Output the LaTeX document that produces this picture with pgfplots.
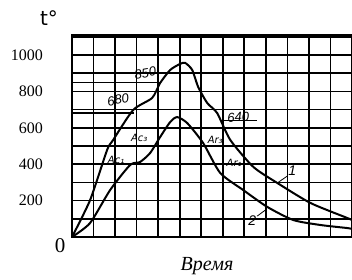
\documentclass[border=0pt]{standalone}
\usepackage{fontspec}
\setmainfont{Liberation Serif}
\newfontfamily\sansf{Liberation Sans}
\newfontfamily\djv{DejaVu Sans}
\usepackage{pgfplots}
\pgfplotsset{compat=1.18}
\begin{document}
\begin{tikzpicture}
\begin{axis}[
  at={(72pt,43pt)}, anchor=south west,
  scale only axis, width=280pt, height=202pt,
  xmin=0, xmax=13, ymin=0, ymax=1110,
  xtick={0,1,...,13}, xticklabels={},
  ytick={200,400,600,800,1000},
  minor ytick={100,300,500,700,900,1100},
  major tick length=0pt, minor tick length=0pt,
  grid=both,
  major grid style={black, line width=1.7pt},
  minor grid style={black, line width=1.7pt},
  axis line style={black, line width=1.8pt},
  yticklabel style={font=\fontsize{16}{16}\selectfont, anchor=east, inner sep=0pt, xshift=-29pt},
  /pgf/number format/assume math mode=true,
  /pgf/number format/1000 sep={},
  clip=false,
]
% extra horizontal marker lines
\addplot[black, line width=1.5pt] coordinates {(0,850) (4.1,850)};
\addplot[black, line width=2pt] coordinates {(0,680) (2.9,680)};
\addplot[black, line width=1.5pt] coordinates {(6.9,640) (8.6,640)};
% curve 1
\addplot[black, line width=2pt, smooth, tension=0.4] coordinates {
 (0,0) (0.84,203) (1.63,478) (1.91,533) (2.84,698) (3.72,764) (4.09,846)
 (4.56,918) (5.0,950) (5.25,957) (5.58,918) (5.86,824) (6.28,736) (6.74,681)
 (7.35,533) (8.42,385) (9.53,297) (11.07,187) (12.79,104) (13.0,93)};
% curve 2
\addplot[black, line width=2pt, smooth, tension=0.4] coordinates {
 (0,0) (0.84,77) (1.77,258) (2.70,396) (3.16,412) (3.63,462) (4.09,549)
 (4.56,632) (4.88,659) (5.35,626) (6.09,516) (6.88,352) (7.95,258)
 (9.07,165) (10.28,93) (11.53,66) (12.79,49) (13.0,44)};
% leaders
\addplot[black, line width=0.8pt] coordinates {(9.53,297) (10.0,335)};
\addplot[black, line width=0.8pt] coordinates {(8.6,115) (9.0,150)};
% annotations
\node[font=\sansf\itshape\fontsize{13}{13}\selectfont, rotate=10] at (axis cs:3.40,901) {850};
\node[font=\sansf\itshape\fontsize{13}{13}\selectfont, rotate=10] at (axis cs:2.14,753) {680};
\node[font=\sansf\itshape\fontsize{13}{13}\selectfont, rotate=3] at (axis cs:7.72,659) {640};
\node[font=\djv\itshape\fontsize{10}{10}\selectfont, inner sep=0pt] at (axis cs:3.12,544) {Ac₃};
\node[font=\djv\itshape\fontsize{10}{10}\selectfont, inner sep=0pt] at (axis cs:2.05,423) {Ac₁};
\node[font=\djv\itshape\fontsize{10}{10}\selectfont, inner sep=0pt] at (axis cs:6.65,533) {Ar₃};
\node[font=\djv\itshape\fontsize{10}{10}\selectfont, inner sep=0pt] at (axis cs:7.53,407) {Ar₁};
\node[font=\sansf\itshape\fontsize{14}{14}\selectfont] at (axis cs:10.23,363) {1};
\node[font=\sansf\itshape\fontsize{14}{14}\selectfont] at (axis cs:8.37,88) {2};
\end{axis}
\node[font=\fontsize{21}{21}\selectfont] at (60pt,34pt) {0};
\node[font=\djv\fontsize{20}{20}\selectfont] at (49pt,262pt) {t°};
\node[font=\itshape\fontsize{20}{20}\selectfont] at (207pt,14pt) {Время};
\pgfresetboundingbox
\path[use as bounding box] (0,0) rectangle (352pt,280pt);
\end{tikzpicture}
\end{document}
